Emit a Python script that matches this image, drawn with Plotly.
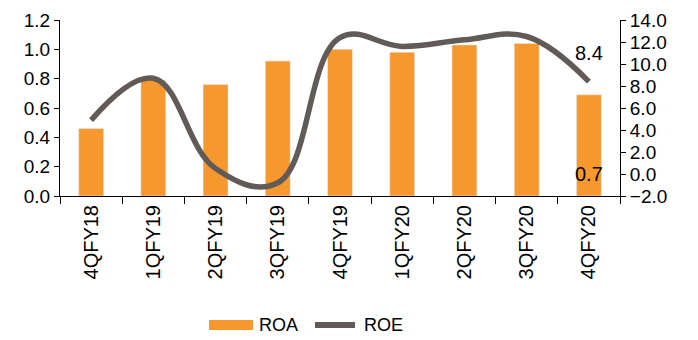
import plotly.graph_objects as go

quarters = ["4QFY18", "1QFY19", "2QFY19", "3QFY19", "4QFY19",
            "1QFY20", "2QFY20", "3QFY20", "4QFY20"]
roa = [0.46, 0.79, 0.76, 0.92, 1.00, 0.98, 1.03, 1.04, 0.69]
roe = [4.9, 8.7, 0.5, -0.8, 12.4, 11.6, 12.2, 12.5, 8.4]

BAR_COLOR = "#F7982F"
LINE_COLOR = "#615A56"
FONT = "Liberation Sans, Arial, sans-serif"

fig = go.Figure()
fig.add_trace(go.Bar(
    x=quarters, y=roa, name="ROA", marker_color=BAR_COLOR,
    width=0.4, yaxis="y",
))
fig.add_trace(go.Scatter(
    x=quarters, y=roe, name="ROE", mode="lines",
    line=dict(color=LINE_COLOR, width=5.5, shape="spline", smoothing=1.15),
    yaxis="y2",
))

# value labels for the last quarter
fig.add_annotation(x=quarters[-1], y=roe[-1], yref="y2", text=f"{roe[-1]:.1f}",
                   showarrow=False, yshift=29,
                   font=dict(size=20, color="#000000", family=FONT))
fig.add_annotation(x=quarters[-1], y=0, yref="y", text=f"{roa[-1]:.1f}",
                   showarrow=False, yanchor="middle", yshift=22,
                   font=dict(size=20, color="#000000", family=FONT))

# legend drawn below the plot area (paper coordinates)
LEG_Y = -0.733
fig.add_shape(type="rect", xref="paper", yref="paper",
              x0=(209 - 60) / 560, x1=(253 - 60) / 560,
              y0=LEG_Y - 0.029, y1=LEG_Y + 0.029,
              fillcolor=BAR_COLOR, line=dict(width=0))
fig.add_shape(type="line", xref="paper", yref="paper",
              x0=(315 - 60) / 560, x1=(355 - 60) / 560, y0=LEG_Y, y1=LEG_Y,
              line=dict(color=LINE_COLOR, width=6))
fig.add_annotation(xref="paper", yref="paper", x=(257 - 60) / 560, y=LEG_Y,
                   text="ROA", showarrow=False, xanchor="left", yanchor="middle",
                   font=dict(size=18, color="#000000", family=FONT))
fig.add_annotation(xref="paper", yref="paper", x=(362 - 60) / 560, y=LEG_Y,
                   text="ROE", showarrow=False, xanchor="left", yanchor="middle",
                   font=dict(size=18, color="#000000", family=FONT))

fig.update_layout(
    width=698, height=340,
    margin=dict(l=60, r=78, t=20, b=144, autoexpand=False),
    paper_bgcolor="white", plot_bgcolor="white",
    font=dict(family=FONT, color="#000000", size=19),
    showlegend=False,
    xaxis=dict(
        type="category", tickangle=-90, showline=True, linecolor="#000000",
        linewidth=1, ticks="outside", tickson="boundaries", ticklen=7,
        tickcolor="#000000", showgrid=False, tickfont=dict(size=20),
        automargin=False,
    ),
    yaxis=dict(
        range=[0, 1.2], dtick=0.2, tickformat=".1f", showline=True,
        linecolor="#000000", ticks="outside", ticklen=5, tickcolor="#000000",
        showgrid=False, zeroline=False, tickfont=dict(size=19),
        automargin=False,
    ),
    yaxis2=dict(
        range=[-2, 14], dtick=2, tickformat=".1f", overlaying="y", side="right",
        showline=True, linecolor="#000000", ticks="outside", ticklen=5,
        tickcolor="#000000", showgrid=False, zeroline=False,
        tickfont=dict(size=19), automargin=False,
    ),
)

fig.write_html("out.html")
